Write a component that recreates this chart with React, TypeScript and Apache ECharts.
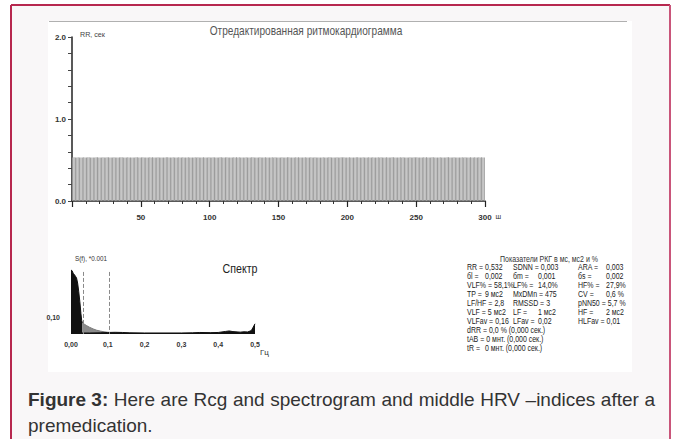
import React, { useEffect, useRef } from 'react';
import * as echarts from 'echarts';

// ---------- data ----------
const chartTitle = 'Отредактированная ритмокардиограмма';
const rrAxisName = 'RR, сек';
const rrXUnit = 'ш';
const rrValues: number[] = [
  0.532, 0.533, 0.531, 0.532, 0.534, 0.532, 0.530, 0.531, 0.533, 0.532, 0.532, 0.535, 0.533, 0.531, 0.532, 0.530, 0.532, 0.534, 0.533, 0.532,
  0.531, 0.532, 0.533, 0.530, 0.532, 0.534, 0.533, 0.532, 0.531, 0.532, 0.533, 0.532, 0.530, 0.531, 0.532, 0.533, 0.534, 0.532, 0.531, 0.532,
  0.533, 0.532, 0.531, 0.532, 0.530, 0.532, 0.533, 0.534, 0.532, 0.531, 0.532, 0.533, 0.532, 0.531, 0.530, 0.532, 0.533, 0.532, 0.534, 0.532,
  0.532, 0.531, 0.533, 0.532, 0.532, 0.530, 0.531, 0.532, 0.533, 0.534, 0.532, 0.532, 0.531, 0.533, 0.532, 0.530, 0.532, 0.533, 0.531, 0.532,
  0.534, 0.532, 0.531, 0.532, 0.533, 0.532, 0.530, 0.532, 0.531, 0.533, 0.532, 0.534, 0.532, 0.531, 0.532, 0.533, 0.532, 0.530, 0.532, 0.533,
  0.531, 0.532, 0.533, 0.532, 0.530, 0.531, 0.532, 0.534, 0.533, 0.532, 0.531, 0.532, 0.533, 0.532, 0.530, 0.532, 0.531, 0.533, 0.532, 0.534,
  0.532, 0.533, 0.531, 0.532, 0.532, 0.530, 0.533, 0.532, 0.531, 0.532, 0.534, 0.533, 0.532, 0.531, 0.530, 0.532, 0.533, 0.532, 0.531, 0.532,
  0.533, 0.532, 0.530, 0.531, 0.532, 0.533, 0.532, 0.534, 0.532, 0.531, 0.532, 0.530, 0.533, 0.532, 0.531, 0.532, 0.533, 0.534, 0.532, 0.531,
  0.532, 0.531, 0.533, 0.532, 0.534, 0.532, 0.531, 0.530, 0.532, 0.533, 0.532, 0.531, 0.532, 0.533, 0.530, 0.532, 0.534, 0.532, 0.531, 0.532,
  0.530, 0.532, 0.533, 0.531, 0.532, 0.532, 0.534, 0.533, 0.531, 0.532, 0.530, 0.532, 0.533, 0.532, 0.531, 0.534, 0.532, 0.533, 0.532, 0.530,
  0.532, 0.533, 0.532, 0.531, 0.530, 0.532, 0.533, 0.534, 0.532, 0.531, 0.532, 0.533, 0.531, 0.532, 0.530, 0.533, 0.532, 0.531, 0.534, 0.532,
  0.531, 0.532, 0.534, 0.532, 0.533, 0.531, 0.530, 0.532, 0.533, 0.532, 0.531, 0.532, 0.534, 0.533, 0.532, 0.530, 0.531, 0.532, 0.533, 0.532,
  0.533, 0.531, 0.532, 0.530, 0.532, 0.533, 0.532, 0.531, 0.534, 0.532, 0.533, 0.532, 0.530, 0.531, 0.532, 0.533, 0.532, 0.534, 0.531, 0.532,
  0.532, 0.534, 0.533, 0.532, 0.531, 0.530, 0.532, 0.533, 0.532, 0.531, 0.532, 0.530, 0.533, 0.534, 0.532, 0.531, 0.532, 0.533, 0.532, 0.531,
  0.530, 0.532, 0.531, 0.533, 0.532, 0.534, 0.532, 0.531, 0.532, 0.533, 0.530, 0.532, 0.533, 0.532, 0.531, 0.534, 0.532, 0.533, 0.531, 0.532,
];

const spectrumTitle = 'Спектр';
const spectrumAxisName = 'S(f), *0.001';
const spectrumXUnit = 'Гц';
const vlfSpectrum: [number, number][] = [
  [0, 0.376], [0.003, 0.372], [0.006, 0.357], [0.009, 0.35], [0.012, 0.34], [0.015, 0.33],
  [0.018, 0.3], [0.021, 0.25], [0.024, 0.19], [0.027, 0.12], [0.029, 0.08], [0.031, 0.065],
];
const lfSpectrum: [number, number][] = [
  [0.031, 0.065], [0.036, 0.058], [0.042, 0.05], [0.05, 0.04], [0.06, 0.03], [0.07, 0.022],
  [0.08, 0.017], [0.09, 0.013], [0.1, 0.01], [0.104, 0.009],
];
const hfSpectrum: [number, number][] = [
  [0.03, 0.006], [0.05, 0.006], [0.08, 0.007], [0.1, 0.009], [0.12, 0.01], [0.14, 0.009],
  [0.16, 0.007], [0.2, 0.006], [0.25, 0.006], [0.3, 0.006], [0.33, 0.007], [0.35, 0.009],
  [0.38, 0.008], [0.4, 0.009], [0.42, 0.015], [0.43, 0.018], [0.44, 0.014], [0.46, 0.011],
  [0.47, 0.013], [0.48, 0.012], [0.49, 0.02], [0.495, 0.04], [0.5, 0.06],
];
const bandBorders = [0.032, 0.103];
const bandBorderTop = 0.365;

const indexHeader = 'Показатели РКГ в мс, мс2 и %';
const indexRows: string[][] = [
  ['RR =', '0,532', 'SDNN =', '0,003', 'ARA =', '0,003'],
  ['бl =', '0,002', 'бm =', '0,001', 'бs =', '0,002'],
  ['VLF% =', '58,1%', 'LF% =', '14,0%', 'HF% =', '27,9%'],
  ['TP =', '9 мс2', 'MxDMn =', '475', 'CV =', '0,6 %'],
  ['LF/HF =', '2,8', 'RMSSD =', '3', 'pNN50 =', '5,7 %'],
  ['VLF =', '5 мс2', 'LF =', '1 мс2', 'HF =', '2 мс2'],
  ['VLFav =', '0,16', 'LFav =', '0,02', 'HLFav =', '0,01'],
];
const indexNotes: string[][] = [
  ['dRR =', '0,0 % (0,000 сек.)'],
  ['tAB =', '0 мнт. (0,000 сек.)'],
  ['tR =', '0 мнт. (0,000 сек.)'],
];

const captionBold = 'Figure 3:';
const captionRest = 'Here are Rcg and spectrogram and middle HRV –indices after a';
const captionLine2 = 'premedication.';

// ---------- styling ----------
const SANS = '"Liberation Sans", Arial, sans-serif';

function measure(text: string, font: string): number {
  const ctx = document.createElement('canvas').getContext('2d');
  if (!ctx) return text.length * 4;
  ctx.font = font;
  return ctx.measureText(text).width;
}

export default function App() {
  const ref = useRef<HTMLDivElement>(null);

  useEffect(() => {
    if (!ref.current) return;
    const chart = echarts.init(ref.current, null, { renderer: 'svg' });

    const fitText = (text: string, fontPx: number, x: number, y: number, width: number, fill: string, align = 'left', weight = 'normal') => {
      const font = `${weight} ${fontPx}px ${SANS}`;
      const s = width / measure(text, font);
      return {
        type: 'text', x, y, scaleX: s, scaleY: 1,
        style: { text, font, fill, align, verticalAlign: 'middle' },
      };
    };

    // table
    const tFontPx = 8.5;
    const tFont = `normal ${tFontPx}px ${SANS}`;
    const tScale = 98 / measure(indexHeader, tFont);
    const colX = [467, 513, 578];
    const valX = [485, 538, 606];
    const rowY0 = 267;
    const rowStep = 9;
    const cell = (text: string, x: number, y: number) => ({
      type: 'text', x, y, scaleX: tScale, scaleY: 1,
      style: { text, font: tFont, fill: '#222', verticalAlign: 'middle' },
    });
    const tableTexts: any[] = [];
    tableTexts.push({
      type: 'text', x: 549, y: 259, scaleX: tScale, scaleY: 1,
      style: { text: indexHeader, font: tFont, fill: '#333', align: 'center', verticalAlign: 'middle' },
    });
    indexRows.forEach((row, r) => {
      for (let c = 0; c < 3; c++) {
        const label = row[c * 2];
        const val = row[c * 2 + 1];
        const lw = measure(label, tFont) * tScale;
        const vx = Math.max(valX[c], colX[c] + lw + 2);
        const y = rowY0 + r * rowStep;
        tableTexts.push(cell(label, colX[c], y));
        tableTexts.push(cell(val, vx, y));
      }
    });
    indexNotes.forEach((row, i) => {
      const y = rowY0 + (indexRows.length + i) * rowStep;
      const lw = measure(row[0], tFont) * tScale;
      tableTexts.push(cell(row[0], colX[0], y));
      tableTexts.push(cell(row[1], Math.max(valX[0], colX[0] + lw + 2), y));
    });

    // caption, justified first line
    const capFont = `normal 19px ${SANS}`;
    const capBoldFont = `bold 19px ${SANS}`;
    const words = [captionBold, ...captionRest.split(' ')];
    const widths = words.map((w, i) => measure(w, i === 0 ? capBoldFont : capFont));
    const left = 28, right = 655;
    const gap = (right - left - widths.reduce((a, b) => a + b, 0)) / (words.length - 1);
    const captionTexts: any[] = [];
    let cx = left;
    words.forEach((w, i) => {
      captionTexts.push({ type: 'text', x: cx, y: 399, style: { text: w, font: i === 0 ? capBoldFont : capFont, fill: '#333', verticalAlign: 'middle' } });
      cx += widths[i] + gap;
    });
    captionTexts.push({ type: 'text', x: left, y: 425, style: { text: captionLine2, font: capFont, fill: '#333', verticalAlign: 'middle' } });

    const isNear = (v: number, t: number) => Math.abs(v - t) < 1e-6;
    const axisFont = SANS;

    chart.setOption({
      animation: false,
      graphic: [
        { type: 'rect', shape: { x: 11, y: 5, width: 659, height: 440 }, style: { fill: '#f9f7f8' }, z: -10 },
        { type: 'rect', shape: { x: 48, y: 21, width: 584, height: 351 }, style: { fill: '#ffffff' }, z: -9 },
        { type: 'line', shape: { x1: 49, y1: 21.5, x2: 627, y2: 21.5 }, style: { stroke: '#b0b0b0', lineWidth: 1 }, z: -8 },
        { type: 'line', shape: { x1: 11, y1: 5, x2: 670, y2: 5 }, style: { stroke: '#b7284f', lineWidth: 2 }, z: 10 },
        { type: 'line', shape: { x1: 11, y1: 5, x2: 11, y2: 439 }, style: { stroke: '#b7284f', lineWidth: 2 }, z: 10 },
        { type: 'line', shape: { x1: 670, y1: 5, x2: 670, y2: 439 }, style: { stroke: '#c9557a', lineWidth: 2 }, z: 10 },
        fitText(chartTitle, 12, 306, 31, 193, '#555', 'center'),
        fitText(rrAxisName, 7.5, 80, 34, 25, '#444'),
        fitText(spectrumTitle, 12.5, 240, 268, 35, '#222', 'center'),
        fitText(spectrumAxisName, 8, 75, 258, 32, '#333'),
        ...captionTexts,
        ...tableTexts,
      ],
      grid: [
        { left: 72, top: 37, width: 413, height: 164, containLabel: false },
        { left: 71, top: 266, width: 184, height: 68, containLabel: false },
      ],
      xAxis: [
        {
          type: 'value', gridIndex: 0, min: 0, max: 300, interval: 50,
          axisLine: { show: true, onZero: false, lineStyle: { color: '#222', width: 1.5 } },
          axisTick: { show: true, length: 6, lineStyle: { color: '#222', width: 1.2 } },
          minorTick: { show: true, splitNumber: 5, length: 3, lineStyle: { color: '#333', width: 1 } },
          splitLine: { show: false },
          axisLabel: {
            margin: 12, color: '#333', fontSize: 8, fontWeight: 'bold', fontFamily: axisFont,
            formatter: (v: number) => (v === 0 ? '' : String(v)),
          },
          name: rrXUnit, nameLocation: 'end', nameGap: 6,
          nameTextStyle: { fontSize: 7, color: '#333', fontFamily: axisFont, verticalAlign: 'top', padding: [12, 0, 0, 0] },
        },
        {
          type: 'value', gridIndex: 1, min: 0, max: 0.5, interval: 0.1,
          axisLine: { show: false },
          axisTick: { show: false },
          splitLine: { show: false },
          axisLabel: {
            margin: 7, color: '#333', fontSize: 7, fontWeight: 'bold', fontFamily: axisFont,
            formatter: (v: number) => (v === 0 ? '0,00' : v.toFixed(1).replace('.', ',')),
          },
          name: spectrumXUnit, nameLocation: 'end', nameGap: 5,
          nameTextStyle: { fontSize: 8, color: '#333', fontFamily: axisFont, verticalAlign: 'top', padding: [14, 0, 0, 0] },
        },
      ],
      yAxis: [
        {
          type: 'value', gridIndex: 0, min: 0, max: 2, interval: 0.2,
          axisLine: { show: true, lineStyle: { color: '#222', width: 1.5 } },
          axisTick: { show: true, length: 4, lineStyle: { color: '#444', width: 1 } },
          splitLine: { show: false },
          axisLabel: {
            margin: 6, color: '#333', fontSize: 8, fontWeight: 'bold', fontFamily: axisFont,
            formatter: (v: number) => (isNear(v, Math.round(v)) ? Math.round(v).toFixed(1) : ''),
          },
        },
        {
          type: 'value', gridIndex: 1, min: 0, max: 0.4, interval: 0.1,
          axisLine: { show: false },
          axisTick: { show: false },
          splitLine: { show: false },
          axisLabel: {
            margin: 11, color: '#333', fontSize: 7, fontWeight: 'bold', fontFamily: axisFont,
            formatter: (v: number) => (isNear(v, 0.1) ? '0,10' : ''),
          },
        },
      ],
      series: [
        {
          type: 'bar', xAxisIndex: 0, yAxisIndex: 0,
          data: rrValues.map((v, i) => [i + 0.5, v]),
          barWidth: 1.05,
          itemStyle: { color: '#9c9c9c' },
          silent: true,
        },
        {
          type: 'line', xAxisIndex: 1, yAxisIndex: 1, data: vlfSpectrum, symbol: 'none',
          lineStyle: { color: '#111', width: 1 }, areaStyle: { color: '#111', opacity: 1 }, silent: true,
        },
        {
          type: 'line', xAxisIndex: 1, yAxisIndex: 1, data: lfSpectrum, symbol: 'none',
          lineStyle: { color: '#7a7a7a', width: 1 }, areaStyle: { color: '#8a8a8a', opacity: 1 }, silent: true,
          markLine: {
            silent: true, symbol: 'none', label: { show: false },
            lineStyle: { type: 'dashed', color: '#8a8a8a', width: 1 },
            data: bandBorders.map((b) => [{ coord: [b, bandBorderTop] }, { coord: [b, 0] }]),
          },
        },
        {
          type: 'line', xAxisIndex: 1, yAxisIndex: 1, data: hfSpectrum, symbol: 'none',
          lineStyle: { color: '#111', width: 1 }, areaStyle: { color: '#111', opacity: 1 }, silent: true,
        },
      ],
    });

    return () => chart.dispose();
  }, []);

  return <div ref={ref} style={{ position: 'absolute', left: 0, top: 0, width: 675, height: 439 }} />;
}
